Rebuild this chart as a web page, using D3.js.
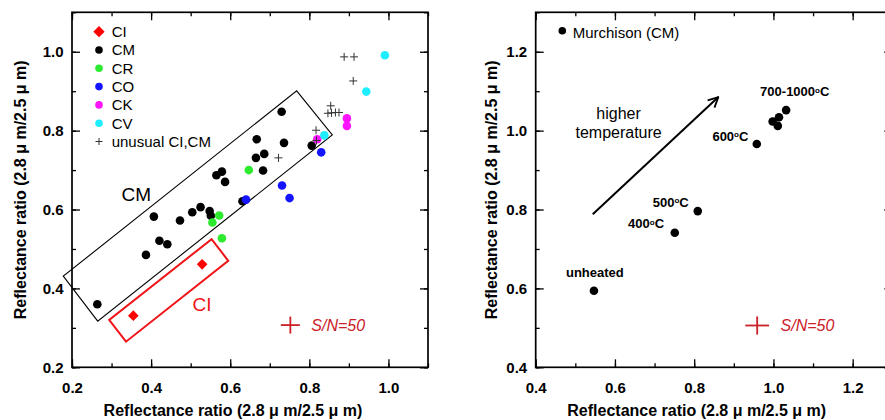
<!DOCTYPE html>
<html>
<head>
<meta charset="utf-8">
<script src="https://cdn.jsdelivr.net/npm/d3@7"></script>
<style>
  html, body { margin: 0; padding: 0; background: #fff; }
  svg { display: block; font-family: "Liberation Sans", Arial, sans-serif; }
</style>
</head>
<body>
<svg id="chart" width="885" height="420"></svg>
<script>
// ---- Left panel: meteorite groups ----
const ciPts = [[0.355, 0.331], [0.529, 0.461]];
const cmPts = [
  [0.264, 0.360], [0.387, 0.485], [0.407, 0.582], [0.421, 0.521], [0.441, 0.512],
  [0.473, 0.572], [0.504, 0.593], [0.525, 0.606], [0.548, 0.596], [0.551, 0.584],
  [0.565, 0.687], [0.579, 0.696], [0.587, 0.670], [0.631, 0.621], [0.665, 0.731],
  [0.667, 0.778], [0.683, 0.699], [0.686, 0.741], [0.730, 0.848], [0.736, 0.769],
  [0.806, 0.762]
];
const crPts = [[0.555, 0.567], [0.572, 0.585], [0.579, 0.527], [0.647, 0.700]];
const coPts = [[0.640, 0.625], [0.731, 0.661], [0.750, 0.629], [0.830, 0.745]];
const ckPts = [[0.820, 0.778], [0.895, 0.831], [0.895, 0.812]];
const cvPts = [[0.838, 0.788], [0.944, 0.899], [0.991, 0.991]];
const unusualPts = [
  [0.888, 0.987], [0.913, 0.987], [0.911, 0.926], [0.854, 0.863], [0.847, 0.844],
  [0.856, 0.845], [0.866, 0.846], [0.875, 0.846], [0.817, 0.801], [0.818, 0.775],
  [0.722, 0.731]
];
const legendLabels = ["CI", "CM", "CR", "CO", "CK", "CV", "unusual CI,CM"];
const cmBox = [[0.178, 0.431], [0.265, 0.317], [0.858, 0.789], [0.768, 0.901]];
const ciBox = [[0.294, 0.320], [0.3365, 0.265], [0.595, 0.470], [0.553, 0.525]];
const snLeft = { x: 0.752, y: 0.307, dx: 0.024, dy: 0.0215 };

// ---- Right panel: heated Murchison ----
const heatLabels = ["unheated", "400", "500", "600", "700-1000", "700-1000", "700-1000", "700-1000"];
const heatX = [0.547, 0.751, 0.809, 0.958, 0.998, 1.011, 1.014, 1.032];
const heatY = [0.594, 0.741, 0.796, 0.966, 1.023, 1.012, 1.034, 1.052];
const arrowFrom = [0.544, 0.788];
const arrowTo = [0.861, 1.085];
const snRight = { x: 0.959, y: 0.506, dx: 0.030, dy: 0.023 };

const xTicksLeft = [0.2, 0.4, 0.6, 0.8, 1.0];
const yTicksLeft = [0.2, 0.4, 0.6, 0.8, 1.0];
const xTicksRight = [0.4, 0.6, 0.8, 1.0, 1.2];
const yTicksRight = [0.4, 0.6, 0.8, 1.0, 1.2];

const axisTitle = "Reflectance ratio (2.8 \u03bc m/2.5 \u03bc m)";
const svg = d3.select("#chart");

const colors = { CI: "#ff0000", CM: "#000000", CR: "#2eea2e", CO: "#1414ff", CK: "#ff14ff", CV: "#1eeeff" };
const snColor = "#cc2028";

function minorTicks(lo, hi) {
  const out = [];
  for (let v = lo; v <= hi + 1e-9; v += 0.1) out.push(+v.toFixed(2));
  return out;
}

// frame with inward ticks on all four sides
function drawFrame(g, x, y, xt, yt) {
  const [x0, x1] = x.range();
  const [y0, y1] = y.range();
  const fmt = d3.format(".1f");
  const xMinor = minorTicks(x.domain()[0], x.domain()[1]);
  const yMinor = minorTicks(y.domain()[0], y.domain()[1]);

  const addAxis = (axis, tx, ty) => {
    const a = g.append("g").attr("transform", `translate(${tx},${ty})`).call(axis);
    a.select(".domain").remove();
    a.selectAll(".tick line").attr("stroke", "#000").attr("stroke-width", 1.3);
    a.selectAll("text").attr("font-size", 15).attr("font-weight", "bold").attr("fill", "#000")
      .attr("font-family", "'Liberation Sans', Arial, sans-serif");
    return a;
  };
  // minor
  addAxis(d3.axisBottom(x).tickValues(xMinor).tickSize(-4).tickFormat(""), 0, y0);
  addAxis(d3.axisTop(x).tickValues(xMinor).tickSize(-4).tickFormat(""), 0, y1);
  addAxis(d3.axisLeft(y).tickValues(yMinor).tickSize(-4).tickFormat(""), x0, 0);
  addAxis(d3.axisRight(y).tickValues(yMinor).tickSize(-4).tickFormat(""), x1, 0);
  // major
  addAxis(d3.axisBottom(x).tickValues(xt).tickSize(-8).tickPadding(15).tickFormat(fmt), 0, y0);
  addAxis(d3.axisTop(x).tickValues(xt).tickSize(-8).tickFormat(""), 0, y1);
  addAxis(d3.axisLeft(y).tickValues(yt).tickSize(-8).tickPadding(8.5).tickFormat(fmt), x0, 0);
  addAxis(d3.axisRight(y).tickValues(yt).tickSize(-8).tickFormat(""), x1, 0);

  g.append("rect").attr("x", x0).attr("y", y1).attr("width", x1 - x0).attr("height", y0 - y1)
    .attr("fill", "none").attr("stroke", "#000").attr("stroke-width", 1.7);
}

function drawTitles(g, x, y, yTitleX) {
  const [x0] = x.range();
  const [y0, y1] = y.range();
  g.append("text").attr("x", x0 + 161).attr("y", 416).attr("text-anchor", "middle")
    .attr("font-size", 16).attr("font-weight", "bold").text(axisTitle);
  g.append("text").attr("transform", `translate(${yTitleX},${(y0 + y1) / 2}) rotate(-90)`)
    .attr("text-anchor", "middle").attr("font-size", 16).attr("font-weight", "bold").text(axisTitle);
}

function drawSN(g, x, y, sn) {
  const cx = x(sn.x), cy = y(sn.y);
  g.append("line").attr("x1", x(sn.x - sn.dx)).attr("x2", x(sn.x + sn.dx)).attr("y1", cy).attr("y2", cy)
    .attr("stroke", snColor).attr("stroke-width", 1.8);
  g.append("line").attr("x1", cx).attr("x2", cx).attr("y1", y(sn.y - sn.dy)).attr("y2", y(sn.y + sn.dy))
    .attr("stroke", snColor).attr("stroke-width", 1.8);
  g.append("text").attr("x", x(sn.x + sn.dx) + 11.5).attr("y", cy + 5.5)
    .attr("font-size", 16).attr("font-style", "italic").attr("fill", snColor).text("S/N=50");
}

// ================= Left panel =================
const xL = d3.scaleLinear([0.2, 1.1], [72, 428]);
const yL = d3.scaleLinear([0.2, 1.1], [367.3, 12.3]);
const gL = svg.append("g");

const line = d3.line().x(d => xL(d[0])).y(d => yL(d[1]));
gL.append("path").attr("d", line(cmBox) + "Z").attr("fill", "none").attr("stroke", "#000").attr("stroke-width", 1.1);
gL.append("path").attr("d", line(ciBox) + "Z").attr("fill", "none").attr("stroke", "#f01418").attr("stroke-width", 2);

gL.append("text").attr("x", xL(0.325)).attr("y", yL(0.6205)).attr("font-size", 19).text("CM");
gL.append("text").attr("x", xL(0.5045)).attr("y", yL(0.3425)).attr("font-size", 19).attr("fill", "#f01418").text("CI");

const diamond = d3.symbol().type(d3.symbolDiamond2);
gL.selectAll(".ci").data(ciPts).join("path")
  .attr("transform", d => `translate(${xL(d[0])},${yL(d[1])})`)
  .attr("d", diamond.size(72)()).attr("fill", colors.CI);

const groups = [[cmPts, colors.CM], [crPts, colors.CR], [coPts, colors.CO], [ckPts, colors.CK], [cvPts, colors.CV]];
groups.forEach(([pts, c]) => {
  gL.append("g").selectAll("circle").data(pts).join("circle")
    .attr("cx", d => xL(d[0])).attr("cy", d => yL(d[1])).attr("r", 4.3).attr("fill", c);
});

gL.append("g").selectAll("path").data(unusualPts).join("path")
  .attr("d", d => `M${xL(d[0]) - 4},${yL(d[1])}H${xL(d[0]) + 4}M${xL(d[0])},${yL(d[1]) - 4}V${yL(d[1]) + 4}`)
  .attr("stroke", "#333").attr("stroke-width", 1);

// legend
const legG = gL.append("g");
const legColors = [colors.CI, colors.CM, colors.CR, colors.CO, colors.CK, colors.CV, "#333"];
legendLabels.forEach((lab, i) => {
  const ly = 31.7 + i * 18.3;
  if (i === 0) {
    legG.append("path").attr("transform", `translate(99,${ly})`)
      .attr("d", diamond.size(82)()).attr("fill", legColors[i]);
  } else if (i === 6) {
    legG.append("path").attr("d", `M95.5,${ly}H102.5M99,${ly - 3.5}V${ly + 3.5}`).attr("stroke", "#333").attr("stroke-width", 1);
  } else {
    legG.append("circle").attr("cx", 99).attr("cy", ly).attr("r", 3.8).attr("fill", legColors[i]);
  }
  legG.append("text").attr("x", 111.7).attr("y", ly + 5.4).attr("font-size", 15).text(lab);
});

drawSN(gL, xL, yL, snLeft);
drawFrame(gL, xL, yL, xTicksLeft, yTicksLeft);
drawTitles(gL, xL, yL, 25.5);

// ================= Right panel =================
const xR = d3.scaleLinear([0.4, 1.3], [535.7, 892.3]);
const yR = d3.scaleLinear([0.4, 1.3], [367.3, 12.3]);
const gR = svg.append("g");

gR.append("defs").append("marker").attr("id", "arrowHead")
  .attr("viewBox", "0 0 12 12").attr("refX", 11).attr("refY", 6)
  .attr("markerWidth", 12).attr("markerHeight", 12).attr("markerUnits", "userSpaceOnUse")
  .attr("orient", "auto")
  .append("path").attr("d", "M1,1 L11,6 L1,11").attr("fill", "none").attr("stroke", "#000").attr("stroke-width", 1.8);

gR.append("line").attr("x1", xR(arrowFrom[0])).attr("y1", yR(arrowFrom[1]))
  .attr("x2", xR(arrowTo[0])).attr("y2", yR(arrowTo[1]))
  .attr("stroke", "#000").attr("stroke-width", 2).attr("marker-end", "url(#arrowHead)");

gR.append("text").attr("x", 618.6).attr("y", 119.3).attr("text-anchor", "middle").attr("font-size", 16).text("higher");
gR.append("text").attr("x", 618.6).attr("y", 138.3).attr("text-anchor", "middle").attr("font-size", 16).text("temperature");

gR.append("g").selectAll("circle").data(heatX).join("circle")
  .attr("cx", d => xR(d)).attr("cy", (d, i) => yR(heatY[i])).attr("r", 4.3).attr("fill", "#000");

// temperature labels (one per distinct step, placed beside its point)
function degLabel(x, y, anchor, num) {
  const t = gR.append("text").attr("x", x).attr("y", y).attr("text-anchor", anchor)
    .attr("font-size", 13).attr("font-weight", "bold");
  t.append("tspan").text(num);
  t.append("tspan").attr("font-size", 8).attr("dy", -3.5).text("o");
  t.append("tspan").attr("dy", 3.5).text("C");
}
gR.append("text").attr("x", xR(heatX[0]) - 28).attr("y", yR(heatY[0]) - 13.4)
  .attr("font-size", 13).attr("font-weight", "bold").text(heatLabels[0]);
degLabel(xR(heatX[1]) - 10.7, yR(heatY[1]) - 4.4, "end", heatLabels[1]);
degLabel(xR(heatX[2]) - 9, yR(heatY[2]) - 4.3, "end", heatLabels[2]);
degLabel(xR(heatX[3]) - 8.4, yR(heatY[3]) - 3.3, "end", heatLabels[3]);
degLabel(xR(heatX[7]) - 26, yR(heatY[7]) - 14, "start", heatLabels[7]);

// legend
gR.append("circle").attr("cx", 562.3).attr("cy", 30.7).attr("r", 3.8).attr("fill", "#000");
gR.append("text").attr("x", 572.7).attr("y", 37.7).attr("font-size", 15).text("Murchison (CM)");

drawSN(gR, xR, yR, snRight);
drawFrame(gR, xR, yR, xTicksRight, yTicksRight);
drawTitles(gR, xR, yR, 497);
</script>
</body>
</html>
